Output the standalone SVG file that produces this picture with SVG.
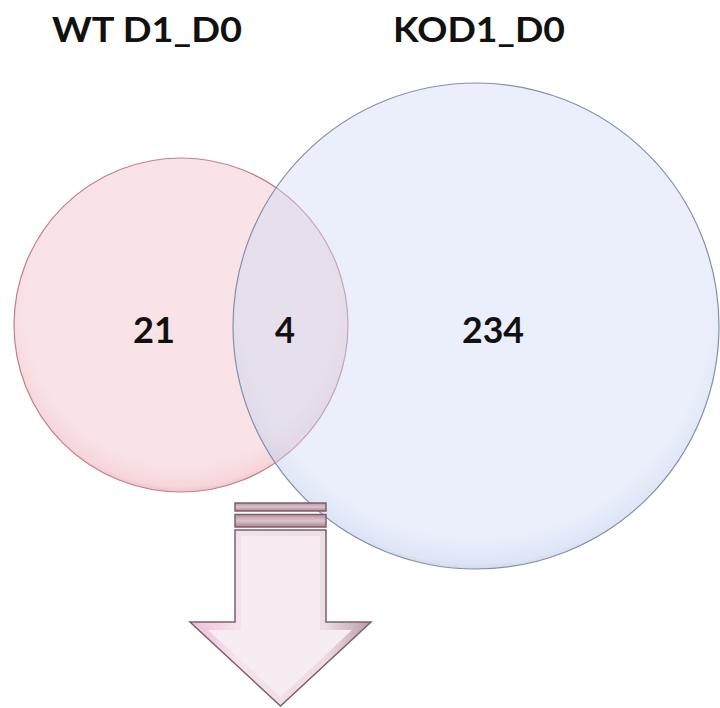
<svg xmlns="http://www.w3.org/2000/svg" width="720" height="708" viewBox="0 0 720 708">
  <style>
    .title { font-family: Lato, "Open Sans", "Liberation Sans", sans-serif; font-weight: bold; font-size: 35px; fill: #111; }
    .num { font-family: Lato, "Open Sans", "Liberation Sans", sans-serif; font-weight: bold; font-size: 36px; fill: #111; }
    .edge { stroke: #7d5f6c; stroke-width: 1.5; }
  </style>
  <defs>
    <radialGradient id="redFill" cx="0.5" cy="0.45" r="0.55">
      <stop offset="0.85" stop-color="#f9e3e6"/>
      <stop offset="0.97" stop-color="#f6d6db"/>
      <stop offset="1" stop-color="#efc3c9"/>
    </radialGradient>
    <radialGradient id="blueFill" cx="0.5" cy="0.45" r="0.55">
      <stop offset="0.88" stop-color="#cdd9f5" stop-opacity="0.42"/>
      <stop offset="0.98" stop-color="#bccaec" stop-opacity="0.5"/>
      <stop offset="1" stop-color="#adbadf" stop-opacity="0.55"/>
    </radialGradient>
    <linearGradient id="arrowOuter" x1="0" y1="0" x2="1" y2="0">
      <stop offset="0" stop-color="#f0bcd6"/>
      <stop offset="0.25" stop-color="#f4e2ec"/>
      <stop offset="0.75" stop-color="#ecdce4"/>
      <stop offset="1" stop-color="#b89ea9"/>
    </linearGradient>
    <linearGradient id="stripe" x1="0" y1="0" x2="0" y2="1">
      <stop offset="0" stop-color="#b8949f"/>
      <stop offset="0.5" stop-color="#dcc4cf"/>
      <stop offset="1" stop-color="#a9858f"/>
    </linearGradient>
  </defs>
  <rect width="720" height="708" fill="#ffffff"/>

  <g id="set-wt">
    <circle cx="181" cy="325" r="167" fill="url(#redFill)" stroke="#c07f89" stroke-width="1.2"/>
    <text class="title" x="52" y="42" textLength="190" lengthAdjust="spacingAndGlyphs">WT D1_D0</text>
  </g>

  <g id="set-ko">
    <circle cx="476" cy="326" r="243" fill="url(#blueFill)" stroke="#8590a8" stroke-width="1.2"/>
    <text class="title" x="393" y="42" textLength="172" lengthAdjust="spacingAndGlyphs">KOD1_D0</text>
  </g>

  <g id="counts">
    <text class="num" x="133" y="343" textLength="42" lengthAdjust="spacingAndGlyphs">21</text>
    <text class="num" x="275" y="343" textLength="20" lengthAdjust="spacingAndGlyphs">4</text>
    <text class="num" x="462" y="343" textLength="62" lengthAdjust="spacingAndGlyphs">234</text>
  </g>

  <g id="arrow">
    <rect x="235" y="503" width="91" height="8" fill="url(#stripe)" class="edge"/>
    <rect x="235" y="514.5" width="91" height="12.5" fill="url(#stripe)" class="edge"/>
    <polygon points="235,530 326,530 326,622 371,622 280.5,706 190,622 235,622" fill="url(#arrowOuter)" class="edge"/>
    <polygon points="241,536 320,536 320,630 352,630 280.5,697 208,630 241,630" fill="#f6ecf1"/>
  </g>
</svg>
